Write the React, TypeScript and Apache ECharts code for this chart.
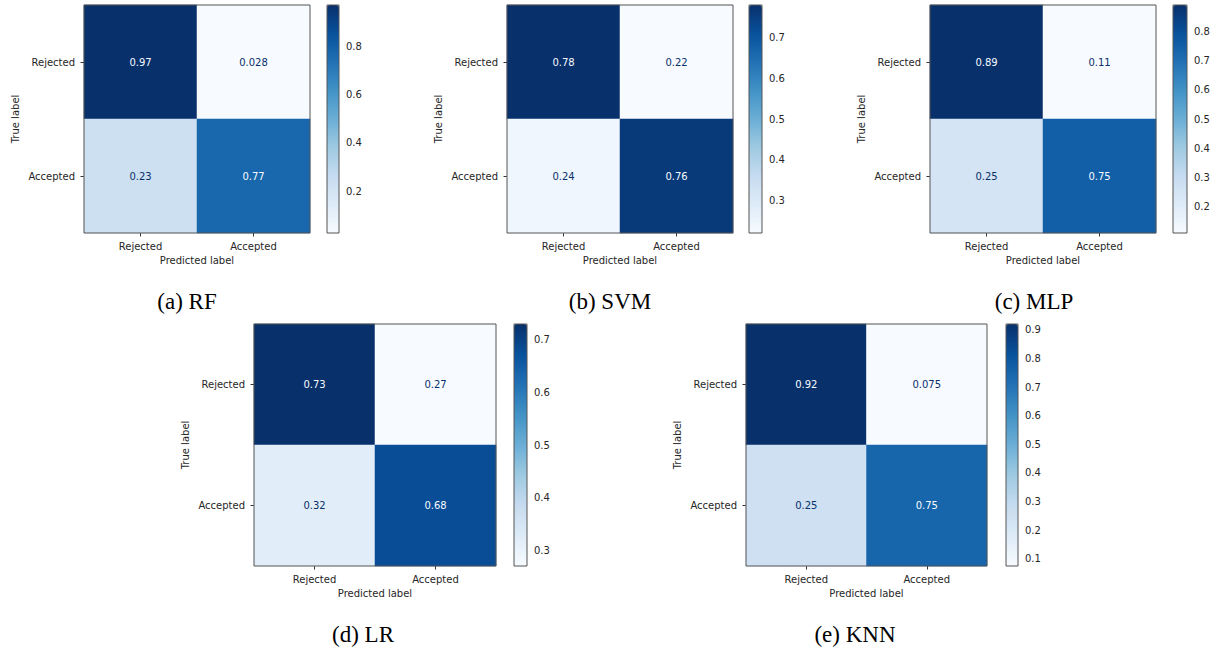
import React, { useEffect, useRef } from 'react';
import * as echarts from 'echarts';

const classes = ['Rejected', 'Accepted'];
const captions = ['(a) RF', '(b) SVM', '(c) MLP', '(d) LR', '(e) KNN'];

const rfValues = [[0.97, 0.028], [0.23, 0.77]];
const svmValues = [[0.78, 0.22], [0.24, 0.76]];
const mlpValues = [[0.89, 0.11], [0.25, 0.75]];
const lrValues = [[0.73, 0.27], [0.32, 0.68]];
const knnValues = [[0.92, 0.075], [0.25, 0.75]];

const rfTicks = [0.2, 0.4, 0.6, 0.8];
const svmTicks = [0.3, 0.4, 0.5, 0.6, 0.7];
const mlpTicks = [0.2, 0.3, 0.4, 0.5, 0.6, 0.7, 0.8];
const lrTicks = [0.3, 0.4, 0.5, 0.6, 0.7];
const knnTicks = [0.1, 0.2, 0.3, 0.4, 0.5, 0.6, 0.7, 0.8, 0.9];

const allValues = [rfValues, svmValues, mlpValues, lrValues, knnValues];
const allTicks = [rfTicks, svmTicks, mlpTicks, lrTicks, knnTicks];

// Matplotlib "Blues" colormap anchors
const BLUES = ['#f7fbff', '#deebf7', '#c6dbef', '#9ecae1', '#6baed6', '#4292c6', '#2171b5', '#08519c', '#08306b'];

// layout: heatmap box [x0, y0, x1, y1], colorbar box, caption center
const layouts = [
  { heat: [84, 5, 310, 233], bar: [327, 5, 339, 233], cap: [187, 301] },
  { heat: [507, 5, 733, 233], bar: [749, 5, 762, 233], cap: [610, 301] },
  { heat: [930, 5, 1156, 233], bar: [1173, 5, 1187, 233], cap: [1034, 301] },
  { heat: [254, 324, 496, 566], bar: [514, 324, 527, 566], cap: [363, 634] },
  { heat: [746, 324, 987, 566], bar: [1006, 324, 1018, 566], cap: [855, 634] },
];

const FONT = 'DejaVu Sans';
const TXT = '#262626';
const EDGE = '#555555';

function buildOption() {
  const grid: any[] = [];
  const xAxis: any[] = [];
  const yAxis: any[] = [];
  const series: any[] = [];
  const visualMap: any[] = [];
  const graphic: any[] = [];
  const n = allValues.length;

  allValues.forEach((vals, i) => {
    const L = layouts[i];
    const flat = vals.flat();
    const vmin = Math.min(...flat);
    const vmax = Math.max(...flat);
    const thresh = (vmin + vmax) / 2;
    const [hx0, hy0, hx1, hy1] = L.heat;
    grid[i] = {
      left: hx0, top: hy0, width: hx1 - hx0, height: hy1 - hy0,
      show: true, borderColor: EDGE, borderWidth: 1, backgroundColor: 'transparent', z: 10,
      outerBoundsMode: 'none',
    };
    xAxis[i] = {
      gridIndex: i, type: 'category', data: classes,
      axisLine: { show: false },
      axisTick: { show: true, alignWithLabel: true, length: 3.5, lineStyle: { color: '#333' } },
      axisLabel: { fontSize: 10, fontFamily: FONT, color: TXT, margin: 8 },
      splitLine: { show: false },
      name: 'Predicted label', nameLocation: 'middle', nameGap: 22,
      nameTextStyle: { fontSize: 10, fontFamily: FONT, color: TXT },
    };
    yAxis[i] = {
      gridIndex: i, type: 'category', data: classes, inverse: true,
      axisLine: { show: false },
      axisTick: { show: true, alignWithLabel: true, length: 3.5, lineStyle: { color: '#333' } },
      axisLabel: { fontSize: 10, fontFamily: FONT, color: TXT, margin: 9 },
      splitLine: { show: false },
      name: 'True label', nameLocation: 'middle', nameGap: 64, nameRotate: 90,
      nameTextStyle: { fontSize: 10, fontFamily: FONT, color: TXT },
    };
    const data: any[] = [];
    vals.forEach((row, r) => {
      row.forEach((v, c) => {
        data.push({
          value: [c, r, v],
          label: { color: v < thresh ? '#08306b' : '#f7fbff' },
        });
      });
    });
    series[i] = {
      type: 'heatmap', xAxisIndex: i, yAxisIndex: i, data,
      label: {
        show: true, fontSize: 10, fontFamily: FONT,
        formatter: (p: any) => String(p.value[2]),
      },
      emphasis: { disabled: true },
    };
    const [bx0, by0, bx1, by1] = L.bar;
    visualMap.push({
      type: 'continuous', seriesIndex: i, min: vmin, max: vmax,
      inRange: { color: BLUES }, calculable: false, orient: 'vertical',
      left: bx0, top: by0, itemWidth: bx1 - bx0, itemHeight: by1 - by0,
      padding: 0, borderWidth: 0, hoverLink: false, show: true,
    });
    const gi = n + i;
    grid[gi] = {
      left: bx0, top: by0, width: bx1 - bx0, height: by1 - by0,
      show: true, borderColor: EDGE, borderWidth: 1, backgroundColor: 'transparent', z: 10,
      outerBoundsMode: 'none',
    };
    xAxis[gi] = { gridIndex: gi, type: 'value', show: false, min: 0, max: 1 };
    const ticks = allTicks[i];
    yAxis[gi] = {
      gridIndex: gi, type: 'value', position: 'right', min: vmin, max: vmax,
      axisLine: { show: false },
      axisTick: { show: true, customValues: ticks, length: 3.5, lineStyle: { color: '#333' } },
      axisLabel: {
        show: true, customValues: ticks, fontSize: 10, fontFamily: FONT, color: TXT, margin: 7,
        formatter: (v: number) => v.toFixed(1),
      },
      splitLine: { show: false },
    };
    series[n + i] = { type: 'scatter', xAxisIndex: gi, yAxisIndex: gi, data: [], silent: true };
    graphic.push({
      type: 'text', x: L.cap[0], y: L.cap[1],
      style: {
        text: captions[i], fontSize: 23, fontFamily: 'Liberation Serif', fill: '#000',
        align: 'center', verticalAlign: 'middle',
      },
    });
  });

  return {
    animation: false,
    backgroundColor: '#ffffff',
    grid, xAxis, yAxis, series, visualMap, graphic,
  };
}

export default function App() {
  const ref = useRef<HTMLDivElement>(null);
  useEffect(() => {
    document.body.style.margin = '0';
    const chart = echarts.init(ref.current!, null, { renderer: 'svg' });
    chart.setOption(buildOption() as any);
    return () => chart.dispose();
  }, []);
  return <div ref={ref} style={{ width: 1215, height: 652 }} />;
}
